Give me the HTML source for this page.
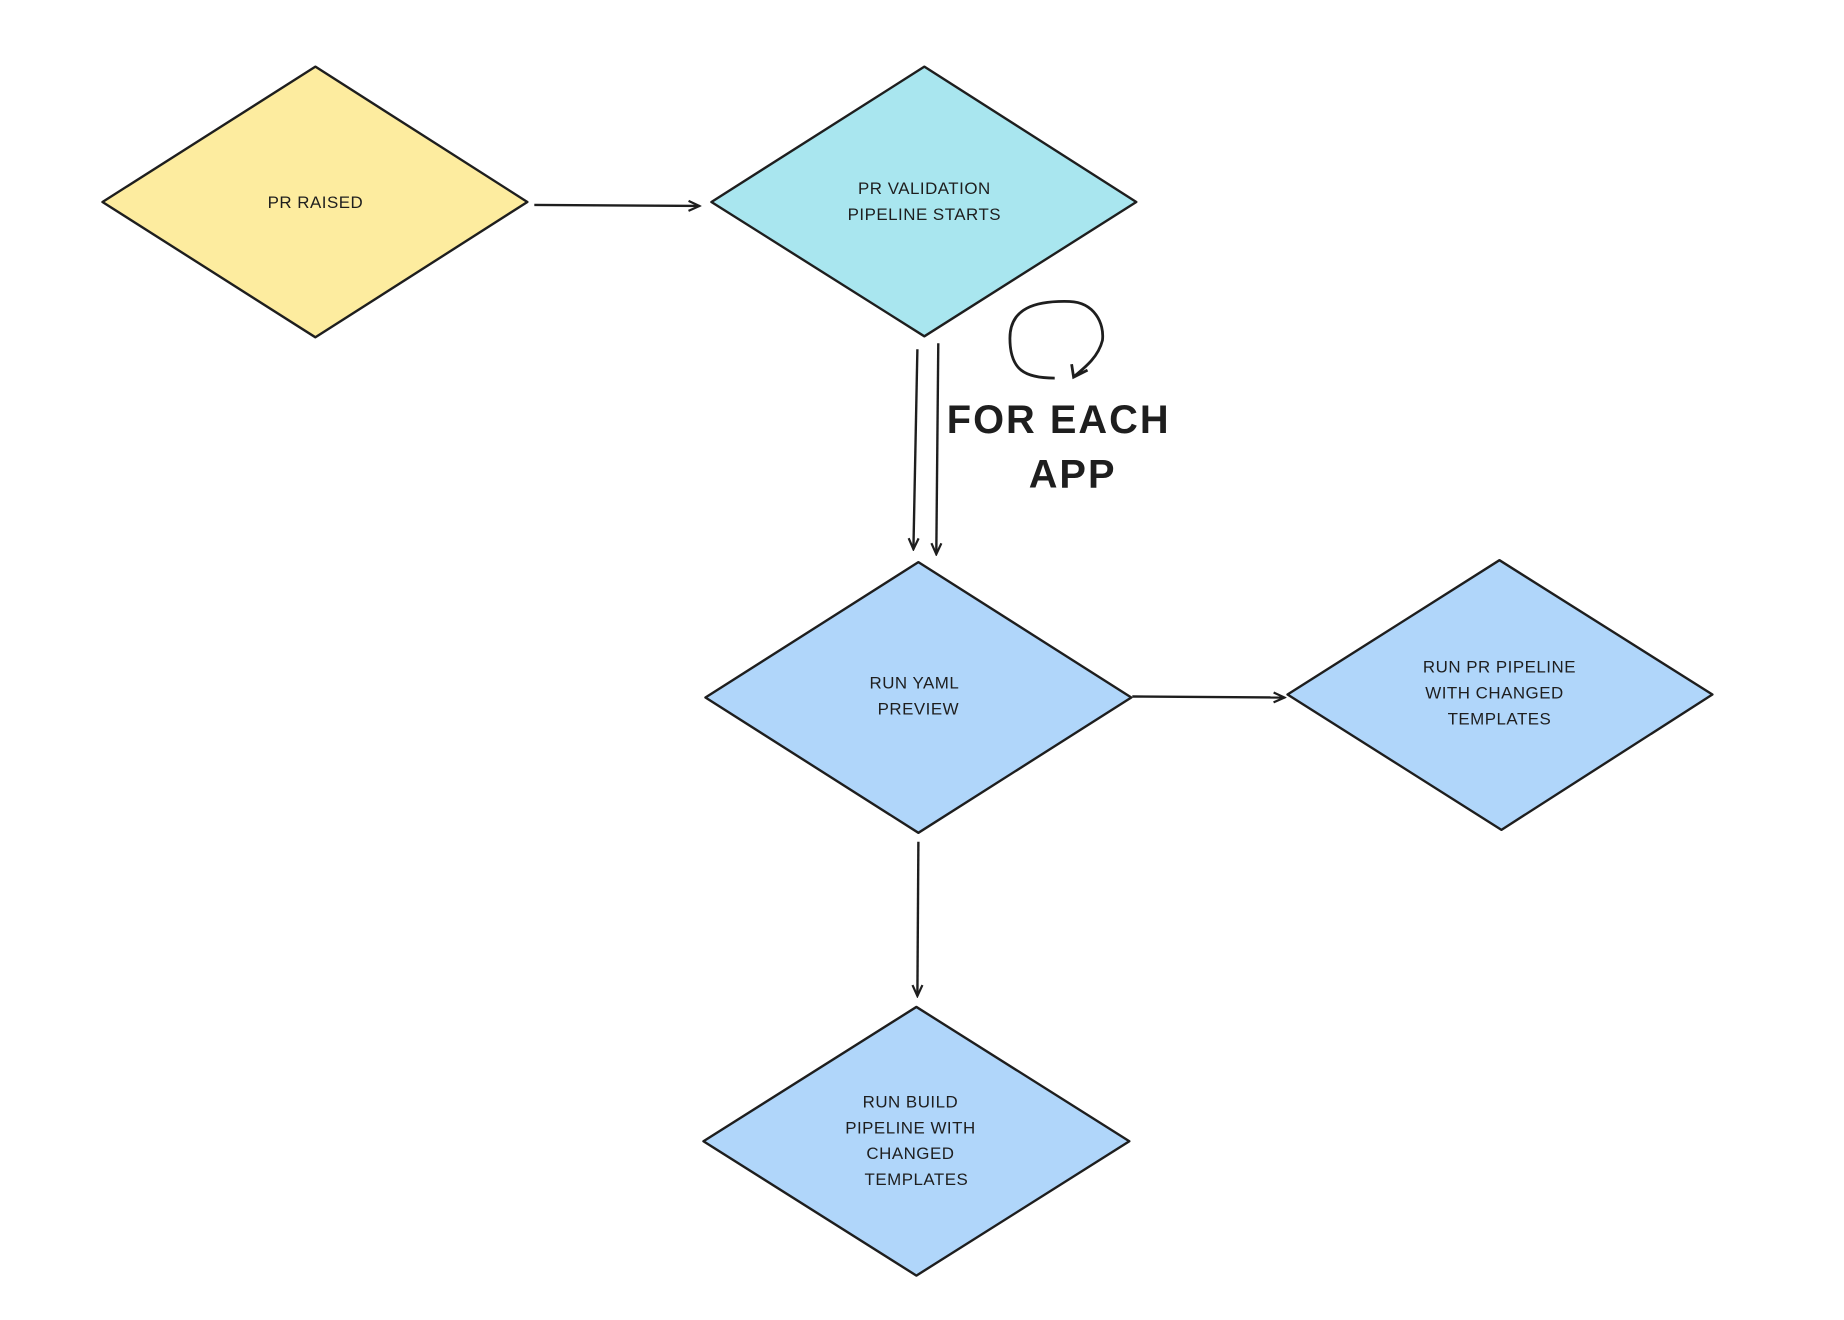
<!DOCTYPE html>
<html><head><meta charset="utf-8"><style>
html,body{margin:0;padding:0;background:#fff;}
svg{display:block}
text{font-family:"Liberation Sans",sans-serif;fill:#1e1e1e;text-anchor:middle}
.n{font-size:17px;letter-spacing:0.5px}
.b{font-size:40px;letter-spacing:2px;font-weight:bold}
</style></head><body>
<svg width="1844" height="1320" viewBox="0 0 1844 1320" xmlns="http://www.w3.org/2000/svg">
<defs>
<marker id="a" markerWidth="14" markerHeight="14" refX="12" refY="7" orient="auto" markerUnits="userSpaceOnUse">
<path d="M1,2 L12,7 L1,12" fill="none" stroke="#1e1e1e" stroke-width="2.2"/>
</marker>
</defs>
<g transform="scale(0.995)">
<g stroke="#1e1e1e" stroke-width="2.4" stroke-linejoin="round">
<polygon points="317,67 530,203 317,339 103,203" fill="#fdec9f"/>
<polygon points="929,67 1142,203 929,338 715,203" fill="#a9e6ef"/>
<polygon points="923,565 1137,701 923,837 709,701" fill="#b0d6fa"/>
<polygon points="1507,563 1721,698 1509,834 1294,698" fill="#b0d6fa"/>
<polygon points="921,1012 1135,1147 921,1282 707,1147" fill="#b0d6fa"/>
</g>
<g stroke="#1e1e1e" stroke-width="2.4" fill="none" marker-end="url(#a)">
<path d="M537,206 L703,207"/>
<path d="M922,351 L918,552"/>
<path d="M943,345 L941,557"/>
<path d="M1138,700 L1291,701"/>
<path d="M923,846 L922,1001"/>
</g>
<path d="M1060,380 C1030,380 1015,372 1015,340 C1015,310 1040,302 1075,303 C1100,304 1110,325 1108,342 C1104,358 1092,368 1080,378" fill="none" stroke="#1e1e1e" stroke-width="2.8"/>
<path d="M1077,366 L1079,379 L1093,372" fill="none" stroke="#1e1e1e" stroke-width="2.8"/>
<text class="n" x="317" y="209">PR RAISED</text>
<text class="n" x="929" y="195">PR VALIDATION</text>
<text class="n" x="929" y="221">PIPELINE STARTS</text>
<text class="n" x="919" y="692">RUN YAML</text>
<text class="n" x="923" y="718">PREVIEW</text>
<text class="n" x="1507" y="676">RUN PR PIPELINE</text>
<text class="n" x="1502" y="702">WITH CHANGED</text>
<text class="n" x="1507" y="728">TEMPLATES</text>
<text class="n" x="915" y="1113">RUN BUILD</text>
<text class="n" x="915" y="1139">PIPELINE WITH</text>
<text class="n" x="915" y="1165">CHANGED</text>
<text class="n" x="921" y="1191">TEMPLATES</text>
<text class="b" x="1064" y="435">FOR EACH</text>
<text class="b" x="1078" y="490">APP</text>
</g>
</svg>
</body></html>
